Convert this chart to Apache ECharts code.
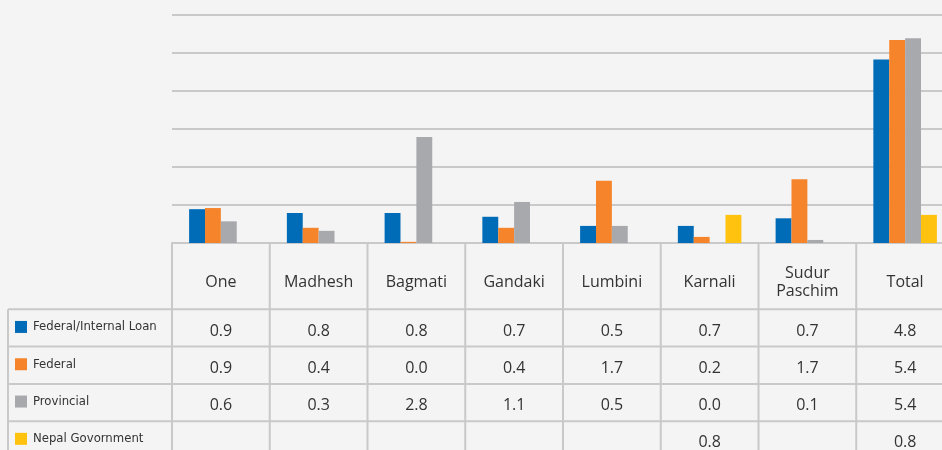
<!DOCTYPE html>
<html>
<head>
<meta charset="utf-8">
<script src="https://cdn.jsdelivr.net/npm/echarts@6/dist/echarts.min.js"></script>
<style>
    html, body { margin: 0; padding: 0; background: #f4f4f4; }
    #chart { width: 942px; height: 450px; }
</style>
</head>
<body>
<div id="chart"></div>
<script>
    var categories = ['One', 'Madhesh', 'Bagmati', 'Gandaki', 'Lumbini', 'Karnali', 'Sudur\nPaschim', 'Total'];
    var seriesNames = ['Federal/Internal Loan', 'Federal', 'Provincial', 'Nepal Govornment'];
    var colors = ['#006bb6', '#f5842b', '#a8a9ad', '#ffc20e'];

    // bar heights as drawn
    var loanValues = [0.89, 0.79, 0.79, 0.69, 0.45, 0.45, 0.65, 4.83];
    var federalValues = [0.92, 0.40, 0.03, 0.40, 1.64, 0.16, 1.68, 5.34];
    var provincialValues = [0.57, 0.32, 2.79, 1.08, 0.45, 0, 0.08, 5.39];
    var nepalGovValues = [null, null, null, null, null, 0.74, null, 0.74];

    // figures printed in the table under the chart
    var loanTable = ['0.9', '0.8', '0.8', '0.7', '0.5', '0.7', '0.7', '4.8'];
    var federalTable = ['0.9', '0.4', '0.0', '0.4', '1.7', '0.2', '1.7', '5.4'];
    var provincialTable = ['0.6', '0.3', '2.8', '1.1', '0.5', '0.0', '0.1', '5.4'];
    var nepalGovTable = ['', '', '', '', '', '0.8', '', '0.8'];

    var allValues = [loanValues, federalValues, provincialValues, nepalGovValues];
    var tableRows = [loanTable, federalTable, provincialTable, nepalGovTable];

    var gridLeft = 172, gridTop = 15, gridWidth = 782, gridHeight = 228;
    var lineColor = '#c9c9c9';
    var textColor = '#333';

    var chart = echarts.init(document.getElementById('chart'));

    var series = seriesNames.map(function (name, i) {
        return {
            name: name,
            type: 'bar',
            data: allValues[i],
            barGap: '0%',
            barCategoryGap: '35%',
            itemStyle: { color: colors[i] },
            silent: true
        };
    });

    chart.setOption({
        backgroundColor: '#f4f4f4',
        animation: false,
        grid: {
            left: gridLeft, top: gridTop, width: gridWidth, height: gridHeight,
            containLabel: false,
            outerBoundsMode: 'none'
        },
        xAxis: {
            type: 'category',
            data: categories,
            axisLine: { show: true, lineStyle: { color: lineColor, width: 2 } },
            axisTick: { show: false },
            axisLabel: { show: false }
        },
        yAxis: {
            type: 'value',
            min: 0,
            max: 6,
            interval: 1,
            axisLine: { show: false },
            axisTick: { show: false },
            axisLabel: { show: false },
            splitLine: { lineStyle: { color: lineColor, width: 2 } }
        },
        series: series
    });

    // data table below the plot, columns taken from the category axis
    var c0 = chart.convertToPixel({ xAxisIndex: 0 }, 0);
    var colW = chart.convertToPixel({ xAxisIndex: 0 }, 1) - c0;
    var tableLeft = c0 - colW / 2;
    var axisY = gridTop + gridHeight;
    var headBottom = 309.3;
    var rowH = 37.3;
    var g = [];

    function line(x1, y1, x2, y2) {
        g.push({
            type: 'line',
            silent: true,
            shape: { x1: x1, y1: y1, x2: x2, y2: y2 },
            style: { stroke: lineColor, lineWidth: 2 }
        });
    }
    function text(x, y, str, opts) {
        g.push({
            type: 'text',
            silent: true,
            x: x,
            y: y,
            style: Object.assign({
                text: str,
                fill: textColor,
                font: '16px "Open Sans", "Noto Sans", sans-serif',
                align: 'center',
                verticalAlign: 'middle',
                lineHeight: 18
            }, opts || {})
        });
    }

    for (var i = 0; i <= categories.length; i++) {
        line(tableLeft + i * colW, axisY, tableLeft + i * colW, 450);
    }
    line(8, headBottom, 8, 450);
    for (var k = 0; k <= tableRows.length; k++) {
        line(8, headBottom + k * rowH, 942, headBottom + k * rowH);
    }

    categories.forEach(function (c, i) {
        var cx = chart.convertToPixel({ xAxisIndex: 0 }, i);
        text(cx, 282, c);
        tableRows.forEach(function (row, r) {
            if (row[i] !== '') {
                text(cx, headBottom + r * rowH + rowH / 2 + 3, row[i]);
            }
        });
    });

    seriesNames.forEach(function (name, r) {
        var cy = headBottom + r * rowH + rowH / 2;
        g.push({
            type: 'rect',
            silent: true,
            shape: { x: 15, y: cy - 7, width: 12, height: 12 },
            style: { fill: colors[r] }
        });
        text(33, cy - 1, name, {
            align: 'left',
            font: '13px "Liberation Sans Narrow", "DejaVu Sans Condensed", sans-serif'
        });
    });

    chart.setOption({ graphic: g });
</script>
</body>
</html>
